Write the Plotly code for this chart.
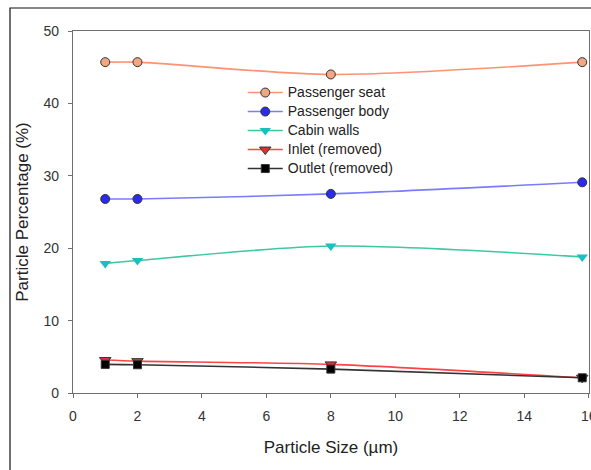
import plotly.graph_objects as go

sizes = [1, 2, 8, 15.8]
seat = [45.7, 45.7, 44.0, 45.7]
body = [26.8, 26.8, 27.5, 29.1]
walls = [17.9, 18.3, 20.3, 18.8]
inlet = [4.55, 4.4, 3.95, 2.1]
outlet = [3.95, 3.9, 3.3, 2.1]

series = [
    ("Passenger seat", seat, "#FF9270", "#F4A582", "circle", 9, 1),
    ("Passenger body", body, "#7B7BFF", "#2B2BEF", "circle", 9, 1),
    ("Cabin walls", walls, "#3CC9A0", "#1BBFBF", "triangle-down", 10, 0),
    ("Inlet (removed)", inlet, "#FF4444", "#E03030", "triangle-down", 10, 1),
    ("Outlet (removed)", outlet, "#333333", "#000000", "square", 8, 1),
]

FONT = "Liberation Sans, Arial"

fig = go.Figure()
for name, vals, lc, mc, sym, ms, lw in series:
    fig.add_trace(go.Scatter(
        x=sizes, y=vals,
        name='<span style="font-size:14px">' + name + '</span>',
        mode="lines+markers",
        line=dict(color=lc, width=1.6, shape="spline", smoothing=0.8),
        marker=dict(symbol=sym, size=ms, color=mc,
                    line=dict(color="#333333", width=lw)),
    ))

axis_common = dict(
    showgrid=False, zeroline=False, showline=True, mirror=True,
    linecolor="#6e6e6e", linewidth=1.3, ticks="outside", ticklen=4,
    tickcolor="#6e6e6e", tickwidth=1.3,
    tickfont=dict(family=FONT, size=14, color="#333333"),
    title_font=dict(family=FONT, size=17, color="#222222"),
    ticklabeloverflow="allow", automargin=False,
)

fig.update_layout(
    width=591, height=470,
    margin=dict(l=73, r=2, t=31, b=77, autoexpand=False),
    paper_bgcolor="white", plot_bgcolor="white",
    showlegend=True,
    legend=dict(x=0.329, y=0.87, xanchor="left", yanchor="top",
                bgcolor="rgba(0,0,0,0)",
                font=dict(family=FONT, size=12, color="#222222"),
                itemwidth=35, tracegroupgap=0),
    xaxis=dict(range=[0, 16.01], dtick=2, ticklabelstandoff=6,
               title=dict(text="Particle Size (µm)", standoff=18), **axis_common),
    yaxis=dict(range=[0, 50], dtick=10, ticklabelstandoff=6,
               title=dict(text="Particle Percentage (%)", standoff=10), **axis_common),
    shapes=[dict(type="rect", xref="paper", yref="paper",
                 x0=(10 - 73) / 516, x1=(620 - 73) / 516,
                 y0=(393 - 500) / 362, y1=(393 - 8) / 362,
                 line=dict(color="#111111", width=1.2), fillcolor="rgba(0,0,0,0)",
                 layer="below")],
)

fig.write_html("out.html")
